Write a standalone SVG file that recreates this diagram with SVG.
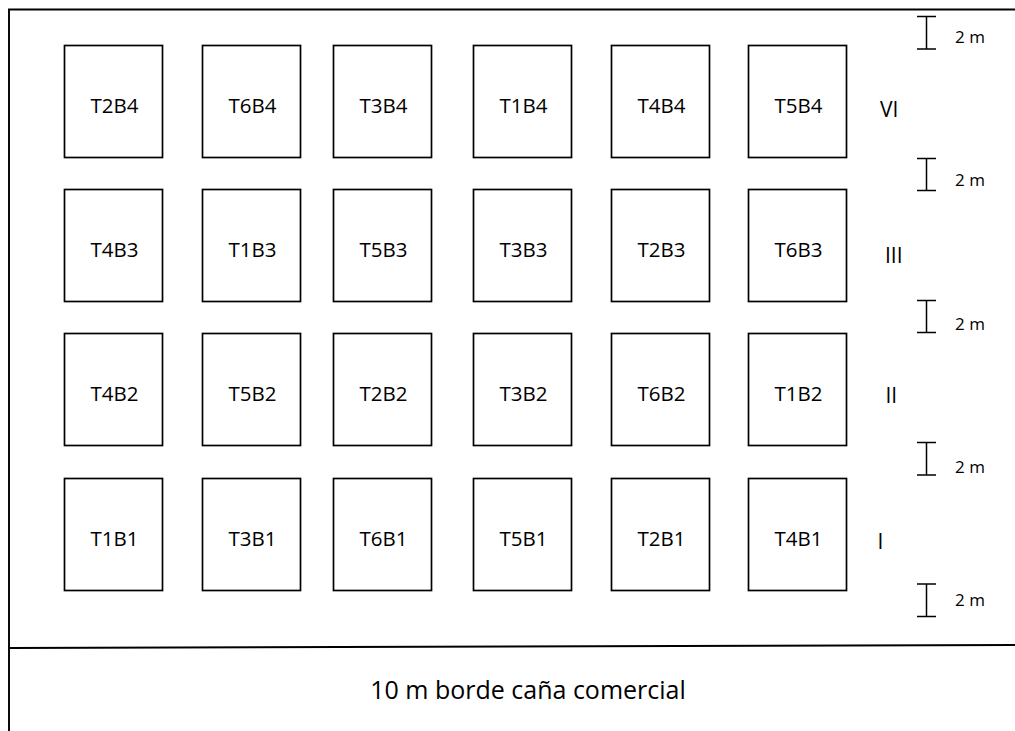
<svg xmlns="http://www.w3.org/2000/svg" width="1015" height="731" viewBox="0 0 1015 731">
<style>
.plot{fill:#fff;stroke:#000;stroke-width:1.7}
.lbl{font-family:"Open Sans","Liberation Sans",sans-serif;font-size:20.5px;fill:#000;text-anchor:middle}
.rom{font-family:"Open Sans","Liberation Sans",sans-serif;font-size:21px;fill:#000}
.dim{font-family:"Open Sans","Liberation Sans",sans-serif;font-size:17px;fill:#000}
.frame{fill:none;stroke:#000;stroke-width:1.9}
.ib{fill:none;stroke:#000;stroke-width:1.5}
</style>
<rect width="1015" height="731" fill="#fff"/>
<g id="frame">
<path class="frame" d="M9,731 V9.5 H1015"/>
<path class="frame" d="M9,648 L1015,645"/>
</g>
<g id="row4">
<g id="T2B4"><rect class="plot" x="64.5" y="45.5" width="98" height="112"/><text class="lbl" x="114.5" y="112.5">T2B4</text></g>
<g id="T6B4"><rect class="plot" x="202.5" y="45.5" width="98" height="112"/><text class="lbl" x="252.5" y="112.5">T6B4</text></g>
<g id="T3B4"><rect class="plot" x="333.5" y="45.5" width="98" height="112"/><text class="lbl" x="383.5" y="112.5">T3B4</text></g>
<g id="T1B4"><rect class="plot" x="473.5" y="45.5" width="98" height="112"/><text class="lbl" x="523.5" y="112.5">T1B4</text></g>
<g id="T4B4"><rect class="plot" x="611.5" y="45.5" width="98" height="112"/><text class="lbl" x="661.5" y="112.5">T4B4</text></g>
<g id="T5B4"><rect class="plot" x="748.5" y="45.5" width="98" height="112"/><text class="lbl" x="798.5" y="112.5">T5B4</text></g>
</g>
<g id="row3">
<g id="T4B3"><rect class="plot" x="64.5" y="189.5" width="98" height="112"/><text class="lbl" x="114.5" y="256.5">T4B3</text></g>
<g id="T1B3"><rect class="plot" x="202.5" y="189.5" width="98" height="112"/><text class="lbl" x="252.5" y="256.5">T1B3</text></g>
<g id="T5B3"><rect class="plot" x="333.5" y="189.5" width="98" height="112"/><text class="lbl" x="383.5" y="256.5">T5B3</text></g>
<g id="T3B3"><rect class="plot" x="473.5" y="189.5" width="98" height="112"/><text class="lbl" x="523.5" y="256.5">T3B3</text></g>
<g id="T2B3"><rect class="plot" x="611.5" y="189.5" width="98" height="112"/><text class="lbl" x="661.5" y="256.5">T2B3</text></g>
<g id="T6B3"><rect class="plot" x="748.5" y="189.5" width="98" height="112"/><text class="lbl" x="798.5" y="256.5">T6B3</text></g>
</g>
<g id="row2">
<g id="T4B2"><rect class="plot" x="64.5" y="333.5" width="98" height="112"/><text class="lbl" x="114.5" y="400.5">T4B2</text></g>
<g id="T5B2"><rect class="plot" x="202.5" y="333.5" width="98" height="112"/><text class="lbl" x="252.5" y="400.5">T5B2</text></g>
<g id="T2B2"><rect class="plot" x="333.5" y="333.5" width="98" height="112"/><text class="lbl" x="383.5" y="400.5">T2B2</text></g>
<g id="T3B2"><rect class="plot" x="473.5" y="333.5" width="98" height="112"/><text class="lbl" x="523.5" y="400.5">T3B2</text></g>
<g id="T6B2"><rect class="plot" x="611.5" y="333.5" width="98" height="112"/><text class="lbl" x="661.5" y="400.5">T6B2</text></g>
<g id="T1B2"><rect class="plot" x="748.5" y="333.5" width="98" height="112"/><text class="lbl" x="798.5" y="400.5">T1B2</text></g>
</g>
<g id="row1">
<g id="T1B1"><rect class="plot" x="64.5" y="478.5" width="98" height="112"/><text class="lbl" x="114.5" y="545.5">T1B1</text></g>
<g id="T3B1"><rect class="plot" x="202.5" y="478.5" width="98" height="112"/><text class="lbl" x="252.5" y="545.5">T3B1</text></g>
<g id="T6B1"><rect class="plot" x="333.5" y="478.5" width="98" height="112"/><text class="lbl" x="383.5" y="545.5">T6B1</text></g>
<g id="T5B1"><rect class="plot" x="473.5" y="478.5" width="98" height="112"/><text class="lbl" x="523.5" y="545.5">T5B1</text></g>
<g id="T2B1"><rect class="plot" x="611.5" y="478.5" width="98" height="112"/><text class="lbl" x="661.5" y="545.5">T2B1</text></g>
<g id="T4B1"><rect class="plot" x="748.5" y="478.5" width="98" height="112"/><text class="lbl" x="798.5" y="545.5">T4B1</text></g>
</g>
<g id="blocks">
<text class="rom" x="880" y="117">VI</text>
<text class="rom" x="885" y="263">III</text>
<text class="rom" x="885.5" y="402.5">II</text>
<text class="rom" x="877.5" y="549">I</text>
</g>
<g id="dimensions">
<path class="ib" d="M917,16.5 H936 M926.5,16.5 V49 M917,49 H936"/>
<text class="dim" x="955" y="43">2 m</text>
<path class="ib" d="M917,158.5 H936 M926.5,158.5 V190.5 M917,190.5 H936"/>
<text class="dim" x="955" y="186">2 m</text>
<path class="ib" d="M917,300.5 H936 M926.5,300.5 V332.5 M917,332.5 H936"/>
<text class="dim" x="955" y="330">2 m</text>
<path class="ib" d="M917,442.5 H936 M926.5,442.5 V475 M917,475 H936"/>
<text class="dim" x="955" y="473">2 m</text>
<path class="ib" d="M917,584 H936 M926.5,584 V616.5 M917,616.5 H936"/>
<text class="dim" x="955" y="605.5">2 m</text>
</g>
<g id="border">
<text x="528" y="699" font-family="Open Sans, Liberation Sans, sans-serif" font-size="25" text-anchor="middle" fill="#000">10 m borde caña comercial</text>
</g>
</svg>
